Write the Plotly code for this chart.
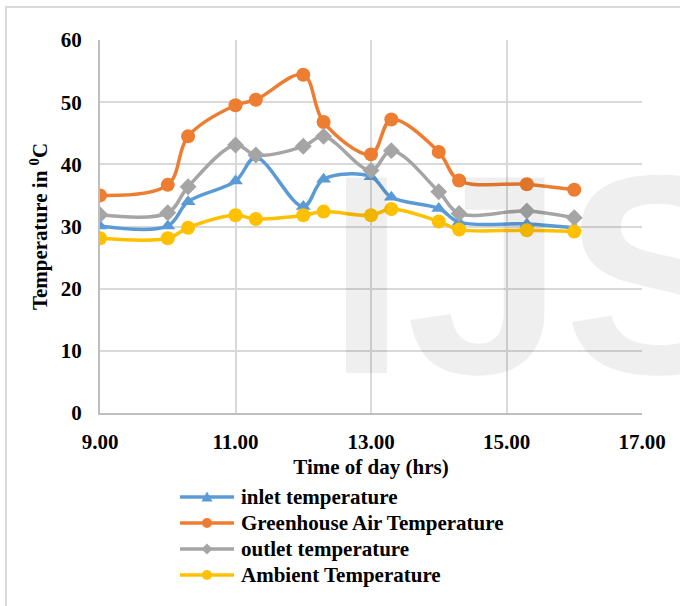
import plotly.graph_objects as go

# Time of day (hrs) and temperatures (deg C) for each measurement point
hours = [9.0, 10.0, 10.3, 11.0, 11.3, 12.0, 12.3, 13.0, 13.3, 14.0, 14.3, 15.3, 16.0]
inlet = [30.1, 30.1, 34.0, 37.3, 41.1, 33.2, 37.6, 38.0, 34.7, 32.9, 30.7, 30.4, 29.8]
greenhouse = [35.0, 36.7, 44.5, 49.5, 50.4, 54.4, 46.8, 41.6, 47.2, 42.0, 37.4, 36.8, 35.9]
outlet = [31.9, 32.2, 36.4, 43.1, 41.5, 42.9, 44.5, 39.0, 42.2, 35.6, 32.1, 32.5, 31.4]
ambient = [28.1, 28.1, 29.8, 31.8, 31.2, 31.8, 32.4, 31.8, 32.8, 30.8, 29.5, 29.4, 29.2]

series_names = ["inlet temperature", "Greenhouse Air Temperature",
                "outlet temperature", "Ambient Temperature"]
x_ticks = [9, 11, 13, 15, 17]
y_ticks = [0, 10, 20, 30, 40, 50, 60]

FONT = "Liberation Serif, Times New Roman, serif"
W, H = 680, 606
ML, MR, MT, MB = 100, 38, 40, 193
PW, PH = W - ML - MR, H - MT - MB


def px_x(p):
    """figure pixel column -> paper fraction"""
    return (p - ML) / PW


def px_y(p):
    """figure pixel row -> paper fraction"""
    return (H - MB - p) / PH


styles = [
    ("#5B9BD5", "triangle-up", 13),
    ("#ED7D31", "circle", 14),
    ("#A5A5A5", "diamond", 13),
    ("#FFC000", "circle", 14),
]

fig = go.Figure()
for name, vals, (col, sym, size) in zip(
        series_names, [inlet, greenhouse, outlet, ambient], styles):
    fig.add_trace(go.Scatter(
        x=hours, y=vals, name=name, mode="lines+markers",
        line=dict(color=col, width=3.5, shape="spline", smoothing=1),
        marker=dict(symbol=sym, size=size, color=col),
    ))

bold = dict(family=FONT, size=21, color="black", weight="bold")

fig.update_layout(
    width=W, height=H, autosize=False,
    margin=dict(l=ML, r=MR, t=MT, b=MB),
    paper_bgcolor="white", plot_bgcolor="white",
    font=bold,
    showlegend=False,
    xaxis=dict(
        range=[9, 17], tickvals=x_ticks, ticktext=[f"{v:.2f}" for v in x_ticks],
        showgrid=True, gridcolor="#d9d9d9", gridwidth=2,
        showline=True, linecolor="#bfbfbf", linewidth=2, zeroline=False,
        ticks="", ticklabelstandoff=9,
        title=dict(text="Time of day (hrs)", font=bold, standoff=6),
    ),
    yaxis=dict(
        range=[0, 60], tickvals=y_ticks,
        showgrid=True, gridcolor="#d9d9d9", gridwidth=2,
        showline=True, linecolor="#bfbfbf", linewidth=2, zeroline=False,
        ticks="", ticklabelstandoff=12,
        title=dict(text="Temperature in <sup>0</sup>C", font=bold, standoff=7),
    ),
)

# outer chart frame
fig.add_shape(type="rect", xref="paper", yref="paper",
              x0=px_x(6), x1=px_x(700), y0=px_y(7), y1=px_y(640),
              line=dict(color="#d9d9d9", width=2), layer="below")

# legend block below the plot: line sample, marker glyph, label
LEG_X0, LEG_X1, LEG_TXT = 180, 234, 240
LEG_ROWS = [497, 523, 549, 575]
r = 5
for name, (col, sym, _), cy in zip(series_names, styles, LEG_ROWS):
    cx = (LEG_X0 + LEG_X1) / 2
    fig.add_shape(type="line", xref="paper", yref="paper",
                  x0=px_x(LEG_X0), x1=px_x(LEG_X1), y0=px_y(cy), y1=px_y(cy),
                  line=dict(color=col, width=3.5))
    if sym == "circle":
        fig.add_shape(type="circle", xref="paper", yref="paper",
                      x0=px_x(cx - r), x1=px_x(cx + r),
                      y0=px_y(cy + r), y1=px_y(cy - r),
                      fillcolor=col, line=dict(width=0))
    else:
        if sym == "triangle-up":
            pts = [(cx - 5.5, cy + 4.5), (cx + 5.5, cy + 4.5), (cx, cy - 5.5)]
        else:
            pts = [(cx - 5.5, cy), (cx, cy - 5.5), (cx + 5.5, cy), (cx, cy + 5.5)]
        path = "M " + " L ".join(f"{px_x(a):.5f},{px_y(b):.5f}" for a, b in pts) + " Z"
        fig.add_shape(type="path", xref="paper", yref="paper", path=path,
                      fillcolor=col, line=dict(width=0))
    fig.add_annotation(text=name, xref="paper", yref="paper",
                       x=px_x(LEG_TXT), y=px_y(cy), xanchor="left", yanchor="middle",
                       showarrow=False, font=bold, borderpad=0)

# journal watermark
fig.add_annotation(text="IJS", xref="paper", yref="paper",
                   x=px_x(325), y=px_y(274), xanchor="left", yanchor="middle",
                   showarrow=False,
                   font=dict(family="Liberation Sans, Arial, sans-serif",
                             size=284, color="rgba(0,0,0,0.063)"))

fig.write_html("out.html")
